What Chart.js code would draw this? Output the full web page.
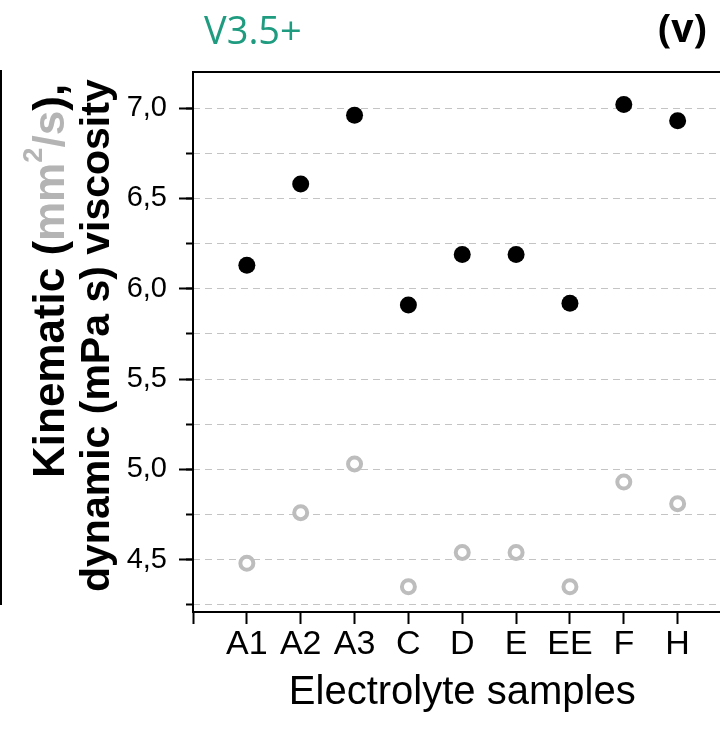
<!DOCTYPE html>
<html>
<head>
<meta charset="utf-8">
<script src="https://cdn.jsdelivr.net/npm/chart.js@4.4.1/dist/chart.umd.min.js"></script>
<style>
  html, body { margin: 0; padding: 0; background: #fff; }
  body { width: 720px; height: 740px; overflow: hidden; position: relative; }
  #wrap { position: absolute; left: 0; top: 0; width: 742px; height: 740px; }
  #title { position: absolute; left: 204px; top: 3px; font: 38px 'Open Sans', sans-serif; color: #1f9c80; }
  #panel { position: absolute; left: 658px; top: 0px; font: bold 39px 'Open Sans', sans-serif; color: #000; }
  #edge { position: absolute; left: 0; top: 70px; width: 2px; height: 535px; background: #000; }
  #ytitle {
    position: absolute; left: 26px; top: 84px; height: 508px;
    writing-mode: vertical-rl; transform: rotate(180deg);
    font: bold 41px 'Liberation Sans', Arial, sans-serif; line-height: 46px;
    text-align: end; white-space: nowrap; color: #000;
  }
  #ytitle .l1 { font-size: 44px; }
  #ytitle .g { color: #b4b4b4; }
  #ytitle sup { font-size: 62%; line-height: 0; }
</style>
</head>
<body>
<div id="wrap"><canvas id="chart" width="742" height="740"></canvas></div>
<div id="title">V3.5+</div>
<div id="panel">(v)</div>
<div id="edge"></div>
<div id="ytitle"><span class="l1">Kinematic (<span class="g">mm<sup>2</sup>/s</span>),</span><br>dynamic (mPa s) viscosity</div>
<script>
// electrolyte samples on the x axis
const categories = ['A1', 'A2', 'A3', 'C', 'D', 'E', 'EE', 'F', 'H'];
// dynamic viscosity, mPa s (black dots)
const dynamicVisc = [6.13, 6.58, 6.96, 5.91, 6.19, 6.19, 5.92, 7.02, 6.93];
// kinematic viscosity, mm2/s (grey rings)
const kinematicVisc = [4.48, 4.76, 5.03, 4.35, 4.54, 4.54, 4.35, 4.93, 4.81];
// labelled y ticks
const yMajorTicks = [4.5, 5.0, 5.5, 6.0, 6.5, 7.0];

const FONT = "'Liberation Sans', Arial, sans-serif";

const toPoints = arr => arr.map((v, i) => ({ x: i, y: v }));

// top frame line of the plot box
const topFrame = {
  id: 'topFrame',
  afterDraw(chart) {
    const { ctx, chartArea } = chart;
    ctx.save();
    ctx.strokeStyle = '#000';
    ctx.lineWidth = 2;
    ctx.beginPath();
    ctx.moveTo(chartArea.left - 1, chartArea.top);
    ctx.lineTo(chartArea.right, chartArea.top);
    ctx.stroke();
    ctx.restore();
  },
};

new Chart(document.getElementById('chart'), {
  type: 'scatter',
  data: {
    datasets: [
      {
        label: 'dynamic',
        data: toPoints(dynamicVisc),
        pointRadius: 8.5,
        pointBackgroundColor: '#000',
        pointBorderColor: '#000',
        pointBorderWidth: 0,
      },
      {
        label: 'kinematic',
        data: toPoints(kinematicVisc),
        pointRadius: 6.5,
        pointBackgroundColor: '#fff',
        pointBorderColor: '#bdbdbd',
        pointBorderWidth: 4,
      },
    ],
  },
  plugins: [topFrame],
  options: {
    responsive: false,
    animation: false,
    layout: { padding: { top: 72, left: 0, right: 0, bottom: 0 } },
    plugins: { legend: { display: false }, tooltip: { enabled: false } },
    scales: {
      x: {
        type: 'linear',
        min: -1,
        max: 9,
        afterBuildTicks: axis => { axis.ticks = axis.ticks.filter(t => Number.isInteger(t.value)); },
        afterFit: axis => { axis.height = 128; },
        ticks: {
          stepSize: 1,
          autoSkip: false,
          maxRotation: 0,
          padding: 0,
          color: '#000',
          font: { family: FONT, size: 34 },
          callback: v => categories[v] ?? '',
        },
        grid: { drawOnChartArea: false, tickLength: 12, tickWidth: 2, tickColor: '#000' },
        border: { color: '#000', width: 2 },
        title: {
          display: true,
          text: 'Electrolyte samples',
          color: '#000',
          font: { family: FONT, size: 40 },
          padding: { top: 0, bottom: 23 },
        },
      },
      y: {
        min: 4.21,
        max: 7.2,
        weight: 1,
        afterBuildTicks: axis => { axis.ticks = yMajorTicks.map(v => ({ value: v })); },
        afterFit: axis => { axis.width = 193; },
        ticks: {
          padding: 12,
          color: '#000',
          font: { family: FONT, size: 29 },
          callback: v => v.toFixed(1).replace('.', ','),
        },
        grid: { drawOnChartArea: false, tickLength: 14, tickWidth: 2, tickColor: '#000' },
        border: { color: '#000', width: 2 },
      },
      yMinor: {
        position: 'left',
        min: 4.21,
        max: 7.2,
        weight: 0,
        afterBuildTicks: axis => {
          const ticks = [];
          for (let v = 4.25; v <= 7.0001; v += 0.25) ticks.push({ value: +v.toFixed(2) });
          axis.ticks = ticks;
        },
        afterFit: axis => { axis.width = 0; },
        ticks: { display: false },
        grid: {
          color: '#c4c4c4',
          lineWidth: 1,
          tickLength: 7,
          tickWidth: 2,
          tickColor: '#000',
        },
        border: { display: false, dash: [7, 5] },
      },
    },
  },
});
</script>
</body>
</html>
